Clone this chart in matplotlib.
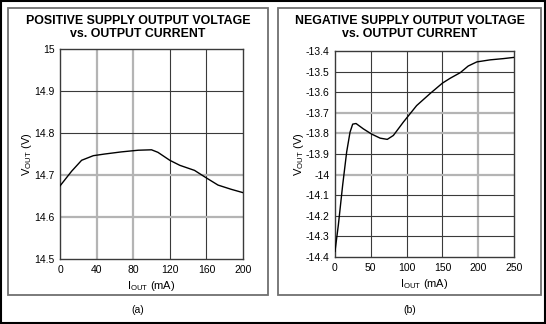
import matplotlib.pyplot as plt
from matplotlib.patches import Rectangle

plt.rcParams['font.family'] = ['Liberation Sans', 'DejaVu Sans']
plt.rcParams['mathtext.fontset'] = 'custom'
plt.rcParams['mathtext.rm'] = 'Liberation Sans'
plt.rcParams['mathtext.it'] = 'Liberation Sans'

# (a) positive supply
pos_i = [0, 12.7, 23.6, 36.4, 49, 67, 85.5, 100, 107, 120, 131, 147, 160, 172.7, 187, 200]
pos_v = [14.674, 14.709, 14.735, 14.746, 14.750, 14.755, 14.759, 14.760, 14.754,
         14.735, 14.723, 14.711, 14.693, 14.676, 14.666, 14.658]
pos_xticks = [0, 40, 80, 120, 160, 200]
pos_yticks = [14.5, 14.6, 14.7, 14.8, 14.9, 15]
pos_yticklabels = ['14.5', '14.6', '14.7', '14.8', '14.9', '15']

# (b) negative supply
neg_i = [0, 4.7, 10.7, 16.3, 21, 24.7, 29.4, 39.6, 51, 63, 73, 81.5, 95.5, 114, 133,
         150, 161, 175, 186, 198, 216.6, 235, 250]
neg_v = [-14.373, -14.244, -14.051, -13.89, -13.794, -13.755, -13.752, -13.778, -13.803,
         -13.823, -13.829, -13.81, -13.745, -13.665, -13.606, -13.556, -13.532, -13.505,
         -13.473, -13.453, -13.443, -13.437, -13.431]
neg_xticks = [0, 50, 100, 150, 200, 250]
neg_yticks = [-14.4, -14.3, -14.2, -14.1, -14.0, -13.9, -13.8, -13.7, -13.6, -13.5, -13.4]
neg_yticklabels = ['-14.4', '-14.3', '-14.2', '-14.1', '-14', '-13.9', '-13.8',
                   '-13.7', '-13.6', '-13.5', '-13.4']

DARK = dict(color='#3a3a3a', lw=0.8)
LIGHT = dict(color='#b4b4b4', lw=1.6)

fig = plt.figure(figsize=(5.46, 3.24), dpi=100)

# frames
fig.patches.append(Rectangle((0.002, 0.003), 0.996, 0.994, transform=fig.transFigure,
                             fill=False, ec='black', lw=1.5))
for x0, x1 in [(8, 268), (278, 541)]:
    fig.patches.append(Rectangle((x0 / 546, 1 - 295 / 324), (x1 - x0) / 546, 287 / 324,
                                 transform=fig.transFigure, fill=False, ec='#707070', lw=1.3))


def panel(rect, xs, ys, xticks, yticks, ylabels, xgrid_light, ygrid_light, title, tag, cx):
    ax = fig.add_axes(rect)
    ax.plot(xs, ys, color='black', lw=1.0, zorder=3)
    ax.set_xlim(xticks[0], xticks[-1])
    ax.set_ylim(yticks[0], yticks[-1])
    ax.set_xticks(xticks)
    ax.set_yticks(yticks)
    ax.set_yticklabels(ylabels)
    ax.tick_params(length=0, labelsize=7.5, pad=4, colors='black')
    for t in xticks[1:-1]:
        ax.axvline(t, zorder=1, **(LIGHT if t in xgrid_light else DARK))
    for t in yticks[1:-1]:
        ax.axhline(t, zorder=1, **(LIGHT if t in ygrid_light else DARK))
    for s in ax.spines.values():
        s.set_color('#3a3a3a')
        s.set_linewidth(1.0)
    ax.set_xlabel(r'I$_{\mathrm{OUT}}$ (mA)', fontsize=8, labelpad=3)
    ax.set_ylabel(r'V$_{\mathrm{OUT}}$ (V)', fontsize=8, labelpad=0)
    fig.text(cx / 546, 1 - 27.5 / 324, title, ha='center', va='center', fontsize=8.9,
             fontweight='bold', linespacing=1.1)
    fig.text(cx / 546, 1 - 310 / 324, tag, ha='center', va='center', fontsize=7.5)
    return ax


panel([60 / 546, 1 - 259 / 324, 183 / 546, 210 / 324], pos_i, pos_v,
      pos_xticks, pos_yticks, pos_yticklabels, [40, 80], [14.7, 14.6],
      'POSITIVE SUPPLY OUTPUT VOLTAGE\nvs. OUTPUT CURRENT', '(a)', 138)
panel([335 / 546, 1 - 257 / 324, 179 / 546, 206 / 324], neg_i, neg_v,
      neg_xticks, neg_yticks, neg_yticklabels, [200], [-13.7, -13.8, -14.0],
      'NEGATIVE SUPPLY OUTPUT VOLTAGE\nvs. OUTPUT CURRENT', '(b)', 410)

fig.savefig('out.png', dpi=100)
